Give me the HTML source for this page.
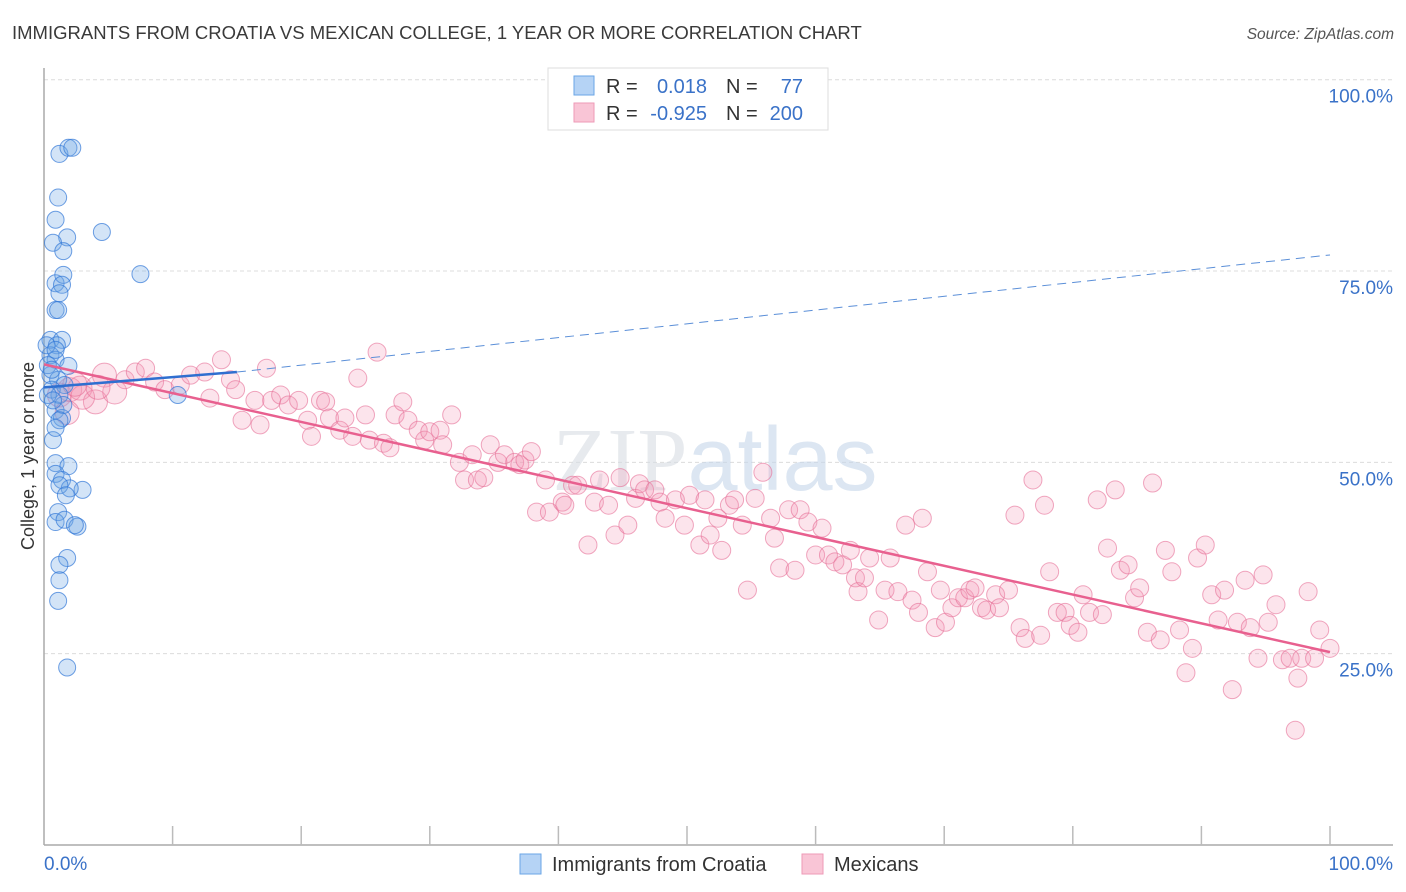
<!DOCTYPE html>
<html><head><meta charset="utf-8"><style>
body{margin:0;background:#fff;font-family:"Liberation Sans",sans-serif}
svg{display:block}
</style></head><body>
<svg id="chart" width="1406" height="892" xmlns="http://www.w3.org/2000/svg">
<text x="12" y="39" font-size="18.5" fill="#3a3a3a" font-family="Liberation Sans, sans-serif">IMMIGRANTS FROM CROATIA VS MEXICAN COLLEGE, 1 YEAR OR MORE CORRELATION CHART</text>
<text x="1394" y="39" font-size="15.5" fill="#555" text-anchor="end" font-style="italic">Source: ZipAtlas.com</text>
<g id="grid"></g>
<text x="715" y="490" font-size="90" fill="#d8dde3" text-anchor="middle" font-family="Liberation Serif, serif" opacity="0.6">ZIP<tspan fill="#c5d6ea" font-family="Liberation Sans, sans-serif">atlas</tspan></text>
<g id="axes"></g>
<g id="pts"></g>
<g id="trends"></g>
<text transform="translate(34,456) rotate(-90)" font-size="18" fill="#333" text-anchor="middle">College, 1 year or more</text>
<g>
<rect x="548" y="68" width="280" height="62" fill="#fff" stroke="#ddd"/>
<rect x="574" y="76" width="20" height="19" fill="#b5d3f5" stroke="#6aa6e6"/>
<rect x="574" y="103" width="20" height="19" fill="#f9c5d6" stroke="#ee9ab7"/>
<text x="606" y="93" font-size="20" fill="#333">R =</text><text x="707" y="93" font-size="20" fill="#3a72c8" text-anchor="end">0.018</text>
<text x="726" y="93" font-size="20" fill="#333">N =</text><text x="803" y="93" font-size="20" fill="#3a72c8" text-anchor="end">77</text>
<text x="606" y="120" font-size="20" fill="#333">R =</text><text x="707" y="120" font-size="20" fill="#3a72c8" text-anchor="end">-0.925</text>
<text x="726" y="120" font-size="20" fill="#333">N =</text><text x="803" y="120" font-size="20" fill="#3a72c8" text-anchor="end">200</text>
</g>
<g>
<rect x="520" y="854" width="21" height="20" fill="#b5d3f5" stroke="#6aa6e6"/>
<text x="552" y="871" font-size="20" fill="#333">Immigrants from Croatia</text>
<rect x="802" y="854" width="21" height="20" fill="#f9c5d6" stroke="#ee9ab7"/>
<text x="834" y="871" font-size="20" fill="#333">Mexicans</text>
</g>
</svg>
<script>
const blueX=[1.2,1.9,2.2,1.1,0.9,1.8,4.5,0.7,1.5,0.9,1.5,1.4,1.2,7.5,0.9,1.1,0.5,1.4,1.0,0.5,0.9,1.9,0.5,1.1,1.6,0.6,1.2,10.4,0.9,1.4,1.5,0.7,0.9,1.9,0.9,1.4,3.0,2.0,1.2,1.7,1.1,0.9,1.6,2.6,2.4,1.8,1.2,1.2,1.1,1.8,0.3,0.6,0.2,0.9,0.3,0.7,1.2,0.9];
const blueY=[90.3,91.1,91.1,84.6,81.7,79.4,80.1,78.7,77.6,73.4,74.5,73.2,72.1,74.6,69.9,69.9,66.0,66.0,65.3,64.0,63.4,62.6,61.4,60.8,60.1,59.5,58.8,58.8,56.8,55.8,57.5,52.9,49.9,49.5,48.5,47.7,46.4,46.6,47.0,45.7,43.5,42.2,42.5,41.6,41.8,37.5,36.6,34.6,31.9,23.2,62.7,62.1,65.3,64.7,58.8,58.1,55.5,54.5];
const pinkX=[1.2,2.0,2.8,4.0,4.7,5.5,6.3,7.1,7.9,8.6,9.4,10.6,11.4,12.5,12.9,13.8,14.5,14.9,15.4,16.8,16.4,17.3,17.7,18.4,19.0,19.8,20.5,20.8,21.5,21.9,22.2,23.0,23.4,24.0,24.4,25.9,25.0,25.3,26.4,26.9,27.3,27.9,28.3,29.1,29.6,30.0,30.8,31.0,31.7,32.3,32.7,33.3,33.7,34.2,34.7,35.3,35.8,36.6,37.0,37.4,37.9,38.3,39.0,39.3,40.3,40.5,41.1,41.5,42.3,42.8,43.2,43.9,44.4,44.8,45.4,46.0,46.3,46.7,47.5,47.9,48.3,49.1,49.8,50.2,51.0,51.4,51.8,52.4,52.7,53.3,53.7,54.3,54.7,55.3,55.9,56.5,56.8,57.2,57.9,58.4,58.8,59.4,60.0,60.5,61.0,61.5,62.1,62.7,63.1,63.3,63.8,64.2,64.9,65.4,65.8,66.4,67.0,67.5,68.0,68.3,68.7,69.3,69.7,70.1,70.6,71.1,71.6,72.0,72.4,72.9,73.3,74.0,74.3,75.0,75.5,75.9,76.3,76.9,77.5,77.8,78.2,78.8,79.4,79.8,80.4,80.8,81.3,81.9,82.3,82.7,83.3,83.7,84.3,84.8,85.2,85.8,86.2,86.8,87.2,87.7,88.3,88.8,89.3,89.7,90.3,90.8,91.3,91.8,92.4,92.8,93.4,93.8,94.4,94.8,95.2,95.8,96.3,96.9,97.5,97.8,98.3,98.8,99.2,100,97.3,3.0,1.8,4.2,2.4];
const pinkY=[58.8,59.5,59.7,57.9,61.4,59.2,60.8,61.8,62.3,60.5,59.5,60.1,61.4,61.8,58.4,63.4,60.8,59.5,55.5,54.9,58.1,62.3,58.1,58.8,57.5,58.1,55.5,53.4,58.1,57.9,55.8,54.2,55.8,53.4,61.0,64.4,56.2,52.9,52.5,51.9,56.2,57.9,55.5,54.2,52.9,54.0,54.2,52.3,56.2,50.0,47.7,51.0,47.7,48.0,52.3,50.0,51.0,50.0,49.7,50.3,51.4,43.5,47.7,43.5,44.8,44.4,47.0,47.0,39.2,44.8,47.7,44.4,40.5,48.0,41.8,45.3,47.2,46.4,46.4,44.8,42.7,45.1,41.8,45.7,39.2,45.1,40.5,42.7,38.5,44.4,45.1,41.8,33.3,45.3,48.7,42.7,40.1,36.2,43.8,35.9,43.8,42.2,37.9,41.4,37.9,37.0,36.6,38.5,34.9,33.1,34.9,37.5,29.4,33.3,37.5,33.1,41.8,32.0,30.4,42.7,35.7,28.4,33.3,29.1,31.0,32.3,32.3,33.3,33.6,31.0,30.7,32.7,31.0,33.3,43.1,28.4,27.0,47.7,27.4,44.4,35.7,30.4,30.4,28.7,27.8,32.7,30.4,45.1,30.1,38.8,46.4,35.9,36.6,32.3,33.6,27.8,47.3,26.8,38.5,35.7,28.1,22.5,25.7,37.5,39.2,32.7,29.4,33.3,20.3,29.1,34.6,28.4,24.4,35.3,29.1,31.4,24.2,24.4,21.8,24.4,33.1,24.4,28.1,25.7,15.0,58.5,56.5,59.8,60.2];
const yTicks=[100,75,50,25];
const yTickLabels=["100.0%","75.0%","50.0%","25.0%"];
const xTicks=[0,10,20,30,40,50,60,70,80,90,100];
const blueTrend=[[0,59.8],[15,61.8],[100,77.1]];
const pinkTrend=[[0,62.8],[100,25.2]];

const NS="http://www.w3.org/2000/svg";
const X0=44,X1=1330,Y0=845,YS=7.653;
const sx=v=>X0+(X1-X0)*v/100;
const sy=v=>Y0-v*YS;
function mk(parent,tag,attrs){const e=document.createElementNS(NS,tag);for(const k in attrs)e.setAttribute(k,attrs[k]);parent.appendChild(e);return e;}
const grid=document.getElementById('grid'),axes=document.getElementById('axes'),pts=document.getElementById('pts'),tr=document.getElementById('trends');
yTicks.forEach((t,i)=>{
  const l=mk(grid,'line',{x1:X0,x2:1393,y1:sy(t),y2:sy(t),stroke:'#dcdcdc','stroke-dasharray':'4,3'});
  
  
  const tx=mk(axes,'text',{x:1393,y:sy(t)+23,'font-size':19,fill:'#3a72c8','text-anchor':'end'});
  tx.textContent=yTickLabels[i];
  
  
});
const ya=mk(axes,'line',{x1:X0,x2:X0,y1:68,y2:Y0,stroke:'#aaa','stroke-width':1.5});


const xa=mk(axes,'line',{x1:X0,x2:1393,y1:Y0,y2:Y0,stroke:'#aaa','stroke-width':1.5});


xTicks.forEach(t=>{if(t===0)return;
  const l=mk(axes,'line',{x1:sx(t),x2:sx(t),y1:Y0-19,y2:Y0,stroke:'#bbb','stroke-width':1.5});
  
  
});
const xl0=mk(axes,'text',{x:X0,y:870,'font-size':19,fill:'#3a72c8'});xl0.textContent='0.0%';


const xl1=mk(axes,'text',{x:1393,y:870,'font-size':19,fill:'#3a72c8','text-anchor':'end'});xl1.textContent='100.0%';



pinkX.forEach((v,i)=>{
  const r=(i<6||i>=pinkX.length-4)?12:9;
  const c=mk(pts,'circle',{cx:sx(v),cy:sy(pinkY[i]),r:r,fill:'rgba(244,150,180,0.26)',stroke:'rgba(230,110,150,0.6)','stroke-width':1});
  
  
});
blueX.forEach((v,i)=>{
  const c=mk(pts,'circle',{cx:sx(v),cy:sy(blueY[i]),r:8.5,fill:'rgba(110,165,230,0.3)',stroke:'rgba(50,120,215,0.7)','stroke-width':1});
  
  
});
const pl=mk(tr,'line',{x1:sx(pinkTrend[0][0]),y1:sy(pinkTrend[0][1]),x2:sx(pinkTrend[1][0]),y2:sy(pinkTrend[1][1]),stroke:'#e8608f','stroke-width':2.5});


const bl=mk(tr,'line',{x1:sx(blueTrend[0][0]),y1:sy(blueTrend[0][1]),x2:sx(blueTrend[1][0]),y2:sy(blueTrend[1][1]),stroke:'#2f6fd0','stroke-width':2.5});


const bd=mk(tr,'line',{x1:sx(blueTrend[1][0]),y1:sy(blueTrend[1][1]),x2:sx(blueTrend[2][0]),y2:sy(blueTrend[2][1]),stroke:'#5b8fd8','stroke-width':1,'stroke-dasharray':'9,6'});


</script>
</body></html>
